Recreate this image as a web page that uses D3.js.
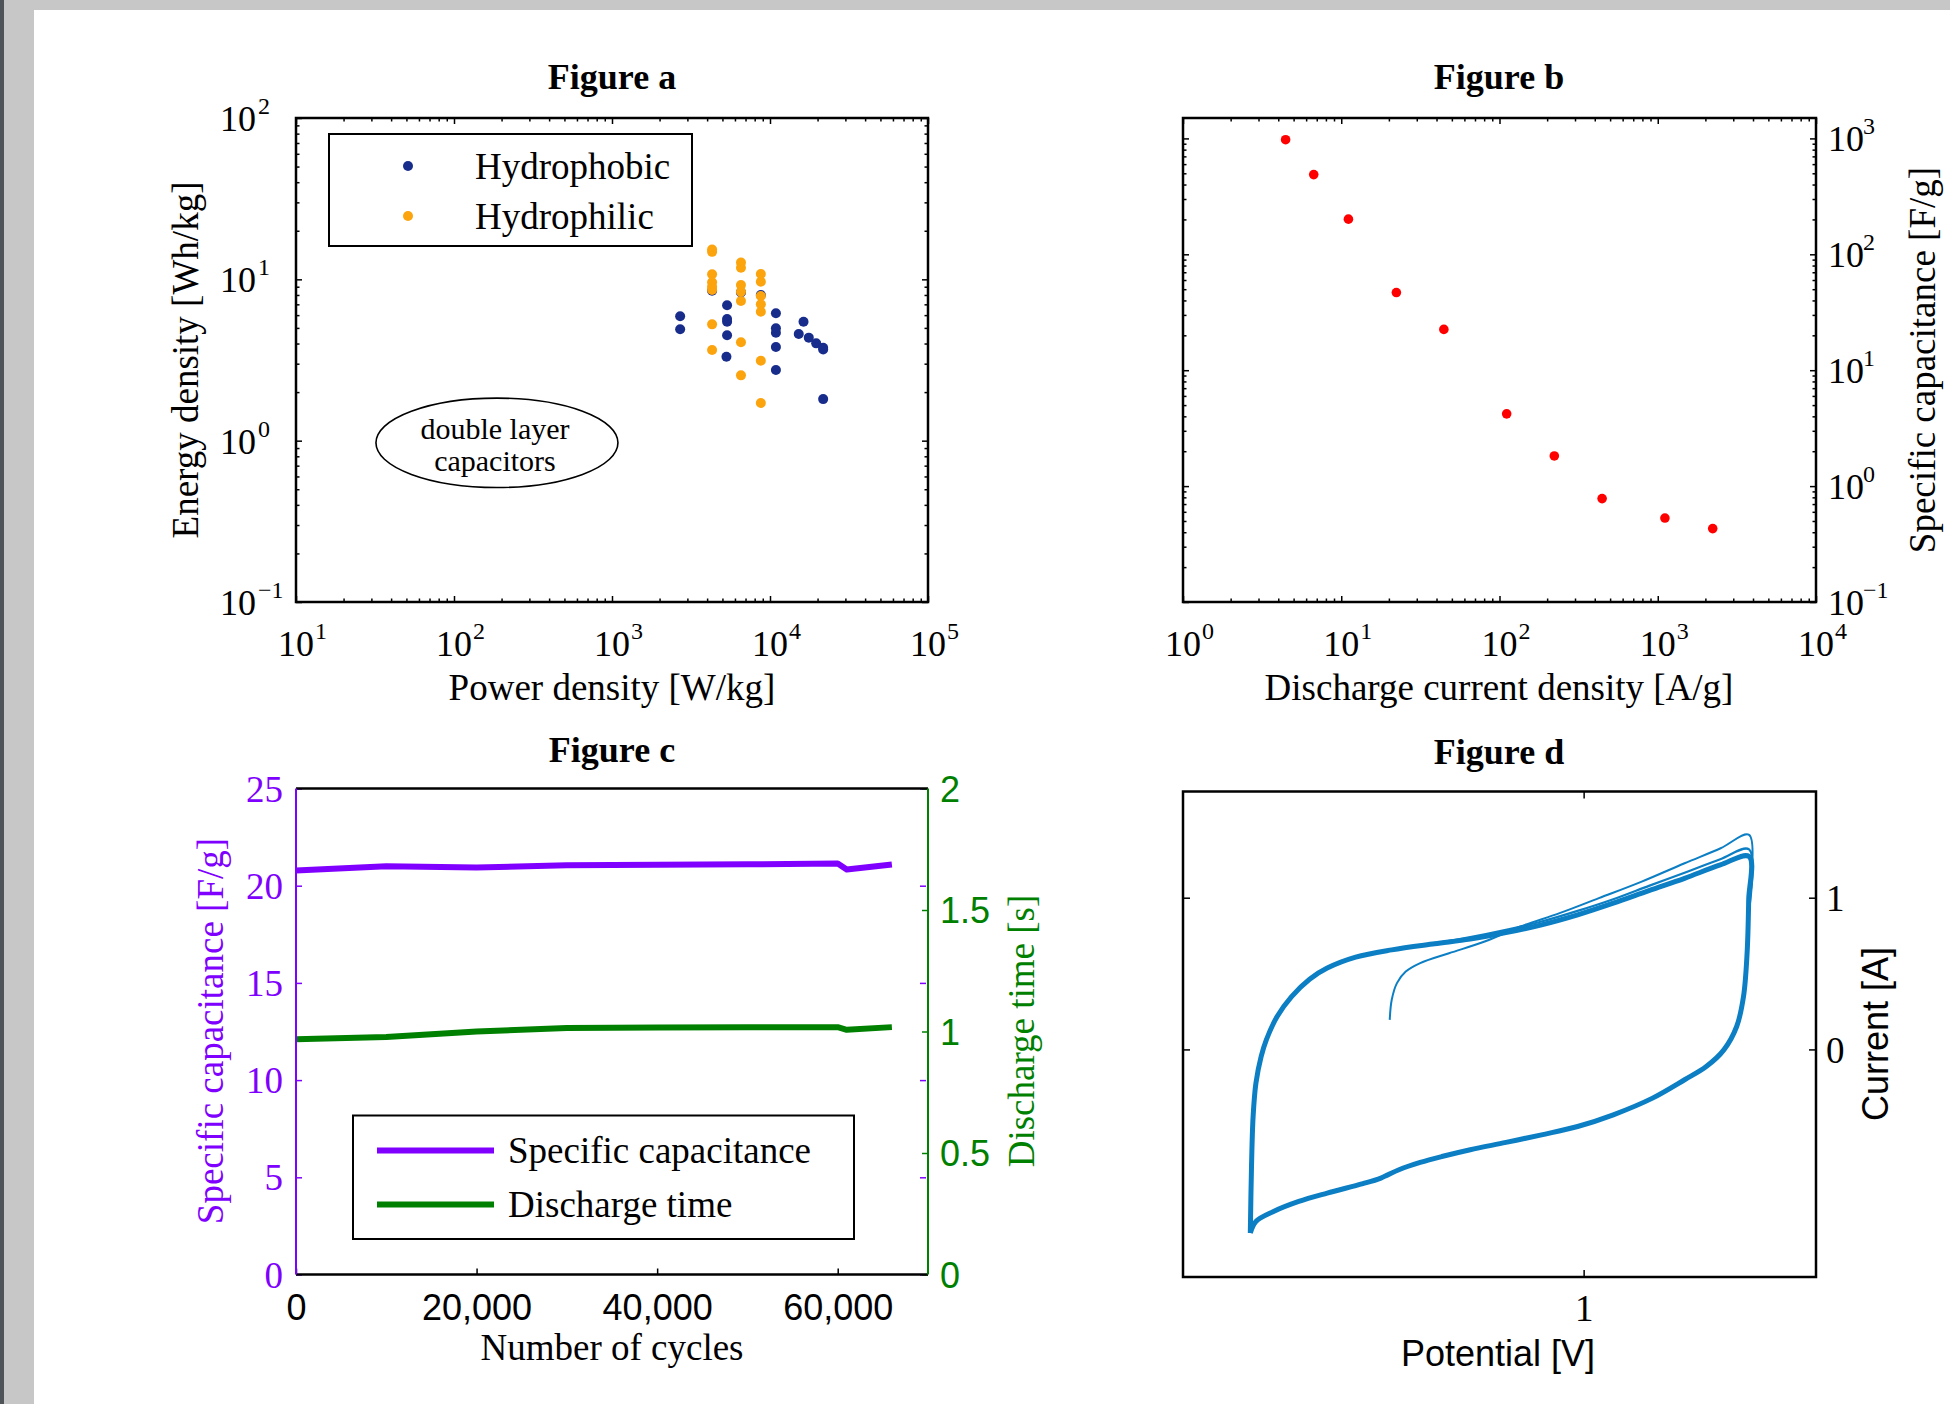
<!DOCTYPE html>
<html>
<head>
<meta charset="utf-8">
<script src="https://cdn.jsdelivr.net/npm/d3@7"></script>
<style>
  html, body { margin: 0; padding: 0; background: #fff; }
  svg { display: block; }
</style>
</head>
<body>
<svg id="chart" width="1950" height="1404"></svg>
<script>
// ---------- data ----------
// Figure a : Ragone plot
const phobicPower  = [2700, 2700, 4300, 5350, 5350, 5350, 5350, 5300, 6550, 8750, 10900, 10900, 10900, 10900, 10900, 15200, 16300, 17600, 19600, 21700, 21700, 21700];
const phobicEnergy = [5.9, 4.9, 8.5, 6.9, 5.68, 5.46, 4.5, 3.31, 8.3, 8.0, 6.16, 4.97, 4.67, 3.81, 2.74, 4.58, 5.46, 4.35, 4.01, 3.77, 3.68, 1.81];
const philicPower  = [4300, 4300, 4300, 4300, 4300, 4300, 4300, 4300, 6550, 6550, 6550, 6550, 6550, 6550, 6550, 8750, 8750, 8750, 8750, 8750, 8750, 8750];
const philicEnergy = [15.3, 14.8, 10.75, 9.6, 9.0, 8.6, 5.26, 3.65, 12.7, 11.8, 9.23, 8.38, 7.34, 4.07, 2.54, 10.8, 9.67, 7.88, 7.0, 6.3, 3.13, 1.71];
const seriesA = ["Hydrophobic", "Hydrophilic"];
const decadesAx = [1, 2, 3, 4, 5];
const decadesAy = [-1, 0, 1, 2];

// Figure b : capacitance vs current density
const currentDensity = [4.45, 6.7, 11.1, 22.3, 44.5, 111, 222, 445, 1110, 2225];
const capacitanceB   = [975, 487, 201, 46.8, 22.5, 4.2, 1.82, 0.78, 0.53, 0.43];
const decadesBx = [0, 1, 2, 3, 4];
const decadesBy = [-1, 0, 1, 2, 3];

// Figure c : cycling
const cycles        = [0, 10000, 20000, 30000, 40000, 50000, 60000, 61000, 66000];
const capacitanceC  = [20.78, 21.0, 20.94, 21.05, 21.08, 21.1, 21.14, 20.83, 21.09];
const dischargeTime = [0.968, 0.977, 1.0, 1.014, 1.016, 1.017, 1.018, 1.007, 1.018];
const seriesC = ["Specific capacitance", "Discharge time"];
const cyclesTicks = [0, 20000, 40000, 60000];
const capTicks = [0, 5, 10, 15, 20, 25];
const timeTicks = [0, 0.5, 1, 1.5, 2];

// Figure d : cyclic voltammetry [V, A]
const cvFirstSweep = [[0.516, 0.195], [0.521, 0.327], [0.534, 0.437], [0.556, 0.513], [0.592, 0.569],
  [0.664, 0.634], [0.753, 0.711], [0.842, 0.81], [0.94, 0.898], [1.038, 0.997], [1.145, 1.106],
  [1.252, 1.227], [1.342, 1.326], [1.413, 1.414], [1.412, 0.98]];
const cvSteadyLoop = [[0.168, -1.21], [0.171, -0.771], [0.175, -0.442], [0.182, -0.222], [0.195, -0.047],
  [0.208, 0.063], [0.235, 0.217], [0.271, 0.348], [0.316, 0.463], [0.36, 0.536], [0.431, 0.608],
  [0.521, 0.656], [0.628, 0.696], [0.717, 0.727], [0.806, 0.77], [0.895, 0.821], [0.985, 0.887],
  [1.074, 0.964], [1.163, 1.047], [1.252, 1.128], [1.341, 1.216], [1.413, 1.271], [1.412, 0.986],
  [1.408, 0.634], [1.399, 0.348], [1.382, 0.151], [1.35, -0.003], [1.306, -0.113], [1.252, -0.2],
  [1.172, -0.321], [1.074, -0.431], [0.985, -0.508], [0.895, -0.563], [0.806, -0.613], [0.717, -0.661],
  [0.646, -0.706], [0.592, -0.745], [0.539, -0.793], [0.494, -0.848], [0.449, -0.885], [0.36, -0.947],
  [0.289, -1.002], [0.226, -1.068], [0.182, -1.134], [0.168, -1.21]];
const cvUpperCycle = [[0.628, 0.7], [0.717, 0.74], [0.806, 0.788], [0.895, 0.843], [0.985, 0.913],
  [1.074, 0.99], [1.163, 1.078], [1.252, 1.165], [1.341, 1.254], [1.413, 1.319], [1.412, 0.9]];
const potentialTicks = [1];
const currentTicks = [0, 1];

// ---------- drawing ----------
const SERIF = '"Liberation Serif", "Times New Roman", serif';
const SANS = '"Liberation Sans", Arial, sans-serif';
const svg = d3.select("#chart").attr("font-family", SERIF);

svg.append("rect").attr("width", 1950).attr("height", 1404).attr("fill", "#fff");
svg.append("rect").attr("width", 1950).attr("height", 10).attr("fill", "#c6c7c6");
svg.append("rect").attr("width", 34).attr("height", 1404).attr("fill", "#c6c7c6");
svg.append("rect").attr("width", 4).attr("height", 1404).attr("fill", "#4f5458");

const frameA = {x: 296, y: 118, w: 632, h: 484};
const frameB = {x: 1183, y: 118, w: 633, h: 484};
const frameC = {x: 296, y: 788.5, w: 632, h: 486};
const frameD = {x: 1183, y: 791.5, w: 633, h: 485.5};

function panel(f) {
  return svg.append("g").attr("transform", `translate(${f.x},${f.y})`);
}

function ticks(g, gen, tx, ty, len, color) {
  const a = g.append("g").attr("transform", `translate(${tx},${ty})`)
    .call(gen.tickSize(-len).tickFormat(""));
  a.select(".domain").remove();
  a.selectAll("line").attr("stroke", color || "#000").attr("stroke-width", 1.5);
  return a;
}

function minorTicks(exps, lo, hi) {
  const out = [];
  exps.forEach(e => { for (let m = 2; m <= 9; m++) { const v = m * Math.pow(10, e); if (v > lo && v < hi) out.push(v); } });
  return out;
}

function logFrame(g, f, x, y, xExp, yExp) {
  const xMaj = xExp.map(e => Math.pow(10, e)), yMaj = yExp.map(e => Math.pow(10, e));
  const xMin = minorTicks(xExp, ...x.domain()), yMin = minorTicks(yExp, ...y.domain());
  ticks(g, d3.axisBottom(x).tickValues(xMaj), 0, f.h, 6);
  ticks(g, d3.axisBottom(x).tickValues(xMin), 0, f.h, 3.5);
  ticks(g, d3.axisTop(x).tickValues(xMaj), 0, 0, 6);
  ticks(g, d3.axisTop(x).tickValues(xMin), 0, 0, 3.5);
  ticks(g, d3.axisLeft(y).tickValues(yMaj), 0, 0, 6);
  ticks(g, d3.axisLeft(y).tickValues(yMin), 0, 0, 3.5);
  ticks(g, d3.axisRight(y).tickValues(yMaj), f.w, 0, 6);
  ticks(g, d3.axisRight(y).tickValues(yMin), f.w, 0, 3.5);
  g.append("rect").attr("width", f.w).attr("height", f.h)
    .attr("fill", "none").attr("stroke", "#000").attr("stroke-width", 2.5);
}

function expText(e) { return e < 0 ? "\u2212" + (-e) : String(e); }

// 10^e under the x axis, the "10" centred on the tick
function powLabelsX(g, x, exps, yBase) {
  exps.forEach(e => {
    const px = x(Math.pow(10, e));
    g.append("text").attr("x", px).attr("y", yBase).attr("text-anchor", "middle")
      .attr("font-size", 36).text("10");
    g.append("text").attr("x", px + 19).attr("y", yBase - 17).attr("font-size", 24).text(expText(e));
  });
}

// 10^e beside a y axis
function powLabelsY(g, y, exps, xBase, side) {
  exps.forEach(e => {
    const py = y(Math.pow(10, e)) + 13;
    if (side === "left") {
      g.append("text").attr("x", xBase).attr("y", py).attr("text-anchor", "end")
        .attr("font-size", 36).text("10");
      g.append("text").attr("x", xBase + 2).attr("y", py - 17).attr("font-size", 24).text(expText(e));
    } else {
      g.append("text").attr("x", xBase).attr("y", py).attr("font-size", 36).text("10");
      g.append("text").attr("x", xBase + 35).attr("y", py - 17).attr("font-size", 24).text(expText(e));
    }
  });
}

function title(cx, baseline, txt) {
  svg.append("text").attr("x", cx).attr("y", baseline).attr("text-anchor", "middle")
    .attr("font-size", 36).attr("font-weight", "bold").text(txt);
}

function vLabel(x, y, txt, opts) {
  const t = svg.append("text").attr("transform", `translate(${x},${y}) rotate(-90)`)
    .attr("text-anchor", "middle").attr("font-size", 37).text(txt);
  if (opts && opts.fill) t.attr("fill", opts.fill);
  if (opts && opts.sans) t.attr("font-family", SANS).attr("font-size", 36);
  return t;
}

function hLabel(x, y, txt, sans) {
  const t = svg.append("text").attr("x", x).attr("y", y).attr("text-anchor", "middle")
    .attr("font-size", 37).text(txt);
  if (sans) t.attr("font-family", SANS).attr("font-size", 36);
  return t;
}

// ===== Figure a =====
{
  const f = frameA, g = panel(f);
  const x = d3.scaleLog().domain([10, 1e5]).range([0, f.w]);
  const y = d3.scaleLog().domain([0.1, 100]).range([f.h, 0]);
  const colors = ["#182c8c", "#fca40e"];

  g.selectAll("circle.phobic").data(d3.zip(phobicPower, phobicEnergy)).join("circle")
    .attr("class", "phobic").attr("cx", d => x(d[0])).attr("cy", d => y(d[1]))
    .attr("r", 5).attr("fill", colors[0]);
  g.selectAll("circle.philic").data(d3.zip(philicPower, philicEnergy)).join("circle")
    .attr("class", "philic").attr("cx", d => x(d[0])).attr("cy", d => y(d[1]))
    .attr("r", 5).attr("fill", colors[1]);

  // "double layer capacitors" annotation
  const ann = g.append("g").attr("transform", `translate(${x(187)},${y(0.97)})`);
  ann.append("ellipse").attr("rx", 121).attr("ry", 44.7).attr("fill", "#fff")
    .attr("stroke", "#000").attr("stroke-width", 1.6);
  ann.append("text").attr("x", -2).attr("y", -4).attr("text-anchor", "middle").attr("font-size", 30).text("double layer");
  ann.append("text").attr("x", -2).attr("y", 28).attr("text-anchor", "middle").attr("font-size", 30).text("capacitors");

  // legend
  const lg = g.append("g").attr("transform", "translate(33,16)");
  lg.append("rect").attr("width", 363).attr("height", 112).attr("fill", "#fff")
    .attr("stroke", "#000").attr("stroke-width", 2);
  seriesA.forEach((s, i) => {
    lg.append("circle").attr("cx", 79).attr("cy", 32 + i * 50).attr("r", 5).attr("fill", colors[i]);
    lg.append("text").attr("x", 146).attr("y", 32 + i * 50).attr("dy", "0.35em")
      .attr("font-size", 37).text(s);
  });

  logFrame(g, f, x, y, decadesAx, decadesAy);
  powLabelsX(g, x, decadesAx, f.h + 54);
  powLabelsY(g, y, decadesAy, -40, "left");

  title(612, 89, "Figure a");
  hLabel(612, 700, "Power density [W/kg]");
  vLabel(198, 360, "Energy density [Wh/kg]");
}

// ===== Figure b =====
{
  const f = frameB, g = panel(f);
  const x = d3.scaleLog().domain([1, 1e4]).range([0, f.w]);
  const y = d3.scaleLog().domain([0.1, 1500]).range([f.h, 0]);

  g.selectAll("circle").data(d3.zip(currentDensity, capacitanceB)).join("circle")
    .attr("cx", d => x(d[0])).attr("cy", d => y(d[1])).attr("r", 4.8).attr("fill", "#ff0000");

  logFrame(g, f, x, y, decadesBx, decadesBy);
  powLabelsX(g, x, decadesBx, f.h + 54);
  powLabelsY(g, y, decadesBy, f.w + 12, "right");

  title(1499, 89, "Figure b");
  hLabel(1499, 700, "Discharge current density [A/g]");
  vLabel(1935, 360, "Specific capacitance [F/g]");
}

// ===== Figure c =====
{
  const f = frameC, g = panel(f);
  const purple = "#8000ff", green = "#008000";
  const x = d3.scaleLinear().domain([0, 70000]).range([0, f.w]);
  const yL = d3.scaleLinear().domain([0, 25]).range([f.h, 0]);
  const yR = d3.scaleLinear().domain([0, 2]).range([f.h, 0]);

  const lineL = d3.line().x((d, i) => x(cycles[i])).y(d => yL(d));
  const lineR = d3.line().x((d, i) => x(cycles[i])).y(d => yR(d));
  g.append("path").attr("d", lineL(capacitanceC)).attr("fill", "none").attr("stroke", purple)
    .attr("stroke-width", 6).attr("stroke-linejoin", "round");
  g.append("path").attr("d", lineR(dischargeTime)).attr("fill", "none").attr("stroke", green)
    .attr("stroke-width", 6).attr("stroke-linejoin", "round");

  // ticks
  ticks(g, d3.axisBottom(x).tickValues(cyclesTicks), 0, f.h, 6);
  ticks(g, d3.axisLeft(yL).tickValues(capTicks), 0, 0, 6, purple);
  ticks(g, d3.axisRight(yL).tickValues(capTicks), f.w - 2, 0, 6, purple);
  ticks(g, d3.axisRight(yR).tickValues(timeTicks), f.w, 0, 6, green);

  // frame
  g.append("line").attr("x1", 0).attr("x2", f.w).attr("stroke", "#000").attr("stroke-width", 2.5);
  g.append("line").attr("x1", 0).attr("x2", f.w).attr("y1", f.h).attr("y2", f.h).attr("stroke", "#000").attr("stroke-width", 2.5);
  g.append("line").attr("y1", 0).attr("y2", f.h).attr("stroke", purple).attr("stroke-width", 2);
  g.append("line").attr("x1", f.w).attr("x2", f.w).attr("y1", 0).attr("y2", f.h).attr("stroke", green).attr("stroke-width", 2);

  // tick labels
  const xl = g.append("g").attr("transform", `translate(0,${f.h})`)
    .call(d3.axisBottom(x).tickValues(cyclesTicks).tickFormat(d3.format(",")).tickSize(0).tickPadding(20));
  xl.select(".domain").remove();
  xl.attr("font-family", SANS).attr("font-size", 36);
  xl.selectAll("text").attr("fill", "#000");

  const yl = g.append("g").call(d3.axisLeft(yL).tickValues(capTicks).tickSize(0).tickPadding(13));
  yl.select(".domain").remove();
  yl.attr("font-family", SERIF).attr("font-size", 37);
  yl.selectAll("text").attr("fill", purple).attr("dy", "0.34em");

  const yr = g.append("g").attr("transform", `translate(${f.w},0)`)
    .call(d3.axisRight(yR).tickValues(timeTicks).tickFormat(d3.format("~g")).tickSize(0).tickPadding(12));
  yr.select(".domain").remove();
  yr.attr("font-family", SANS).attr("font-size", 36);
  yr.selectAll("text").attr("fill", green).attr("dy", "0.36em");

  // legend
  const lg = g.append("g").attr("transform", "translate(57,327)");
  lg.append("rect").attr("width", 501).attr("height", 123.5).attr("fill", "#fff")
    .attr("stroke", "#000").attr("stroke-width", 2);
  [purple, green].forEach((c, i) => {
    const ly = 35 + i * 54;
    lg.append("line").attr("x1", 24).attr("x2", 141).attr("y1", ly).attr("y2", ly)
      .attr("stroke", c).attr("stroke-width", 6);
    lg.append("text").attr("x", 155).attr("y", ly).attr("dy", "0.33em").attr("font-size", 37).text(seriesC[i]);
  });

  title(612, 762, "Figure c");
  hLabel(612, 1360, "Number of cycles");
  vLabel(223, 1031, "Specific capacitance [F/g]", {fill: purple});
  vLabel(1034, 1031, "Discharge time [s]", {fill: green});
}

// ===== Figure d =====
{
  const f = frameD, g = panel(f);
  const blue = "#0b7ec4";
  const x = d3.scaleLinear().domain([0, 1.58]).range([0, f.w]);
  const y = d3.scaleLinear().domain([-1.5, 1.7]).range([f.h, 0]);
  const line = d3.line().x(d => x(d[0])).y(d => y(d[1])).curve(d3.curveCatmullRom.alpha(0.5));

  g.append("path").attr("d", line(cvSteadyLoop)).attr("fill", "none").attr("stroke", blue)
    .attr("stroke-width", 5).attr("stroke-linejoin", "round");
  g.append("path").attr("d", line(cvUpperCycle)).attr("fill", "none").attr("stroke", blue)
    .attr("stroke-width", 2.2);
  g.append("path").attr("d", line(cvFirstSweep)).attr("fill", "none").attr("stroke", blue)
    .attr("stroke-width", 2);

  ticks(g, d3.axisBottom(x).tickValues(potentialTicks), 0, f.h, 7);
  ticks(g, d3.axisTop(x).tickValues(potentialTicks), 0, 0, 7);
  ticks(g, d3.axisLeft(y).tickValues(currentTicks), 0, 0, 7);
  ticks(g, d3.axisRight(y).tickValues(currentTicks), f.w, 0, 7);
  g.append("rect").attr("width", f.w).attr("height", f.h)
    .attr("fill", "none").attr("stroke", "#000").attr("stroke-width", 2.5);

  const xl = g.append("g").attr("transform", `translate(0,${f.h})`)
    .call(d3.axisBottom(x).tickValues(potentialTicks).tickFormat(d3.format("d")).tickSize(0).tickPadding(18));
  xl.select(".domain").remove();
  xl.attr("font-family", SERIF).attr("font-size", 37);
  xl.selectAll("text").attr("fill", "#000");

  const yr = g.append("g").attr("transform", `translate(${f.w},0)`)
    .call(d3.axisRight(y).tickValues(currentTicks).tickFormat(d3.format("d")).tickSize(0).tickPadding(10));
  yr.select(".domain").remove();
  yr.attr("font-family", SERIF).attr("font-size", 37);
  yr.selectAll("text").attr("fill", "#000").attr("dy", "0.34em");

  title(1499, 764, "Figure d");
  hLabel(1498, 1366, "Potential [V]", true);
  vLabel(1888, 1034, "Current [A]", {sans: true});
}
</script>
</body>
</html>
